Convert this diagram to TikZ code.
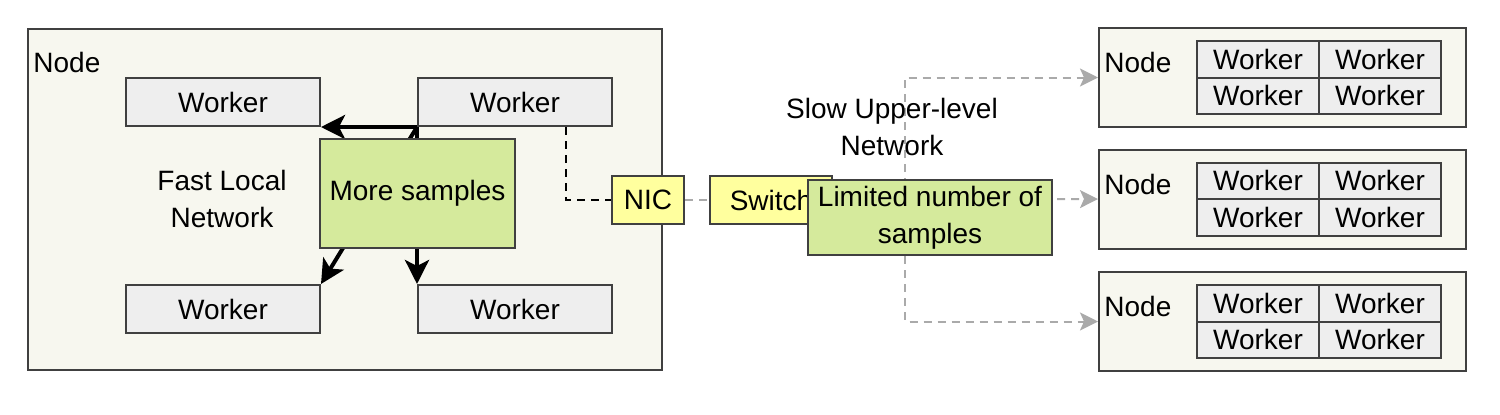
\documentclass[tikz,border=0pt]{standalone}
\usepackage{fontspec}
\setmainfont{Liberation Sans}
\usetikzlibrary{arrows.meta}
\definecolor{boxgray}{HTML}{404040}
\definecolor{hostfill}{HTML}{F7F7EF}
\definecolor{workerfill}{HTML}{EEEEEE}
\definecolor{samplegreen}{HTML}{D5EA9C}
\definecolor{nicyellow}{HTML}{FFFF9E}
\definecolor{linkgray}{HTML}{AAAAAA}

\begin{document}
\begin{tikzpicture}[x=0.5pt, y=-0.5pt, font=\fontsize{14}{18.5}\selectfont,
  hostbox/.style={draw=boxgray, fill=hostfill, line width=1pt, minimum width=183.5pt, minimum height=49.5pt, inner sep=0pt},
  worker/.style={draw=boxgray, fill=workerfill, line width=1pt, minimum width=97pt, minimum height=24pt, inner sep=0pt},
  cell/.style={draw=boxgray, fill=workerfill, line width=1pt, minimum width=61pt, minimum height=18.25pt, inner sep=0pt},
  sample/.style={draw=boxgray, fill=samplegreen, line width=1pt, inner sep=0pt, align=center},
  port/.style={draw=boxgray, fill=nicyellow, line width=1pt, minimum height=24pt, inner sep=0pt},
  fastlink/.style={line width=2pt, -{Stealth[length=12pt, width=12pt, inset=3pt]}},
  uplink/.style={linkgray, line width=1pt, dash pattern=on 4pt off 3pt, -{Stealth[length=9pt, width=9pt, inset=2pt]}}]
  \useasboundingbox (0,0) rectangle (1500,414);

  \node[hostbox, minimum width=317pt, minimum height=170.5pt] (node0) at (345,199.5) {};
  \node[anchor=west, inner sep=0pt] (label0) at (33,62) {Node};
  \node[worker] (wtl) at (223,102) {Worker};
  \node[worker] (wtr) at (515,102) {Worker};
  \node[worker] (wbl) at (223,309) {Worker};
  \node[worker] (wbr) at (515,309) {Worker};
  \node[align=center] (fast) at (222,199) {Fast Local\\Network};

  \draw[fastlink] (wtr.south west) -- (wtl.south east);
  \draw[fastlink] (wtr.south west) -- (wbl.north east);
  \draw[fastlink] (wtr.south west) -- (wbr.north west);
  \node[sample, minimum width=97.5pt, minimum height=54.5pt] (more) at (417.5,193.5) {More samples};

  \node[port, minimum width=36pt] (nic) at (648,200) {NIC};
  \node[port, minimum width=61pt] (switch) at (771,200) {Switch};
  \draw[dashed, line width=1pt, dash pattern=on 4pt off 3pt] ([xshift=25.5pt]wtr.south) |- (nic.west);
  \draw[linkgray, line width=1pt, dash pattern=on 4pt off 3pt] (nic.east) -- (switch.west);

  \foreach \i/\y in {1/77.5, 2/199, 3/321.5} {
    \node[hostbox] (node\i) at (1282.5,\y) {};
    \node[anchor=west, inner sep=0pt] (label\i) at (1104,\y-15) {Node};
    \node[cell] (w\i a) at (1258,\y-18.25) {Worker};
    \node[cell] (w\i b) at (1380,\y-18.25) {Worker};
    \node[cell] (w\i c) at (1258,\y+18.25) {Worker};
    \node[cell] (w\i d) at (1380,\y+18.25) {Worker};
  }

  \coordinate (split) at (905,200);
  \draw[uplink] (switch.east) -- (node2.west);
  \draw[uplink] (split) |- (node1.west);
  \draw[uplink] (split) |- (node3.west);
  \node[align=center] (slow) at (892,126.5) {Slow Upper-level\\Network};
  \node[sample, minimum width=122pt, minimum height=37.5pt] (limited) at (930,217.5) {Limited number of\\samples};
\end{tikzpicture}
\end{document}
